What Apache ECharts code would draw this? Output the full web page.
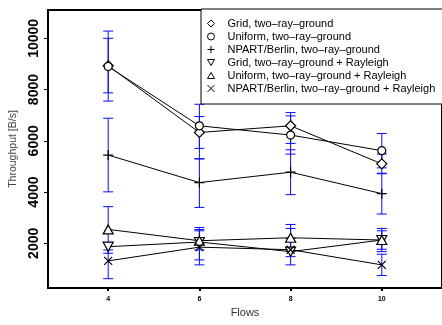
<!DOCTYPE html>
<html>
<head>
<meta charset="utf-8">
<script src="https://cdn.jsdelivr.net/npm/echarts@6/dist/echarts.min.js"></script>
<style>
html,body{margin:0;padding:0;background:#fff;}
#c{width:442px;height:325px;}
</style>
</head>
<body>
<div id="c"></div>
<script>
// ---- data ----
var flows = [4, 6, 8, 10];
var seriesNames = [
  'Grid, two–ray–ground',
  'Uniform, two–ray–ground',
  'NPART/Berlin, two–ray–ground',
  'Grid, two–ray–ground + Rayleigh',
  'Uniform, two–ray–ground + Rayleigh',
  'NPART/Berlin, two–ray–ground + Rayleigh'
];
var gridTR   = [8928, 6326, 6586, 5101];
var unifTR   = [8900, 6585, 6225, 5616];
var npartTR  = [5445, 4370, 4775, 3939];
var gridRay  = [1868, 2050, 1674, 2128];
var unifRay  = [2543, 2100, 2217, 2128];
var npartRay = [1314, 1850, 1750, 1159];

var gridTRLo   = [7872, 5295, 5899, 4714];
var gridTRHi   = [10000, 7426, 7101, 5488];
var unifTRLo   = [7551, 5705, 5480, 4945];
var unifTRHi   = [10283, 6946, 6973, 6287];
var npartTRLo  = [4008, 3400, 3899, 3143];
var npartTRHi  = [6881, 5300, 5650, 4735];
var gridRayLo  = [1740, 1353, 1159, 1768];
var gridRayHi  = [2000, 2488, 2189, 2488];
var unifRayLo  = [1612, 1740, 1700, 1675];
var unifRayHi  = [3430, 2620, 2736, 2581];
var npartRayLo = [620, 1159, 1481, 744];
var npartRayHi = [2010, 2541, 2581, 1574];

var yTicks = [2000, 4000, 6000, 8000, 10000];
var xTicks = [4, 6, 8, 10];

// ---- build ----
var symPlus  = 'path://M5,0 L5,10 M0,5 L10,5';
var symCross = 'path://M0,0 L10,10 M10,0 L0,10';
var symDown  = 'path://M0,0 L10,0 L5,8.66 Z';
var symUp    = 'path://M5,0 L10,8.66 L0,8.66 Z';
var symbols = ['diamond', 'circle', symPlus, symDown, symUp, symCross];
var sizes = [[10,10],[8,8],[10,10],[10,9],[10,9],[8,8]];
var values = [gridTR, unifTR, npartTR, gridRay, unifRay, npartRay];
var los = [gridTRLo, unifTRLo, npartTRLo, gridRayLo, unifRayLo, npartRayLo];
var his = [gridTRHi, unifTRHi, npartTRHi, gridRayHi, unifRayHi, npartRayHi];

var errData = [];
for (var s = 0; s < values.length; s++) {
  for (var i = 0; i < flows.length; i++) {
    errData.push([flows[i], los[s][i], his[s][i]]);
  }
}

var series = [{
  type: 'custom',
  name: 'err',
  z: 1,
  silent: true,
  data: errData,
  encode: {x: 0, y: [1, 2]},
  renderItem: function (params, api) {
    var lo = api.coord([api.value(0), api.value(1)]);
    var hi = api.coord([api.value(0), api.value(2)]);
    var w = 5;
    var st = {stroke: '#0a0aff', lineWidth: 1};
    return {
      type: 'group',
      children: [
        {type: 'line', shape: {x1: lo[0], y1: lo[1], x2: hi[0], y2: hi[1]}, style: st},
        {type: 'line', shape: {x1: lo[0]-w, y1: lo[1], x2: lo[0]+w, y2: lo[1]}, style: st},
        {type: 'line', shape: {x1: hi[0]-w, y1: hi[1], x2: hi[0]+w, y2: hi[1]}, style: st}
      ]
    };
  }
}];

var legendData = [];
for (var k = 0; k < values.length; k++) {
  var d = [];
  for (var j = 0; j < flows.length; j++) d.push([flows[j], values[k][j]]);
  series.push({
    type: 'line',
    name: seriesNames[k],
    z: 3,
    data: d,
    symbol: symbols[k],
    symbolSize: sizes[k],
    showAllSymbol: true,
    lineStyle: {color: '#000', width: 1},
    itemStyle: {color: '#fff', borderColor: '#000', borderWidth: 1.2},
    emphasis: {disabled: true},
    animation: false
  });
  legendData.push({name: seriesNames[k], icon: symbols[k]});
}

var chart = echarts.init(document.getElementById('c'), null, {renderer: 'canvas'});
chart.setOption({
  animation: false,
  backgroundColor: '#fff',
  textStyle: {fontFamily: 'Liberation Sans'},
  grid: {left: 48, right: -2, top: 10, bottom: 37, show: true, borderColor: '#000', borderWidth: 2},
  legend: {
    orient: 'vertical',
    left: 201,
    top: 9,
    data: legendData,
    itemWidth: 7,
    itemHeight: 7,
    itemGap: 0,
    padding: [8, 10, 9, 6],
    backgroundColor: '#fff',
    borderColor: '#000',
    borderWidth: 1,
    borderRadius: 0,
    selectedMode: false,
    itemStyle: {color: '#fff', borderColor: '#000', borderWidth: 1},
    textStyle: {fontSize: 11, color: '#000', lineHeight: 13, padding: [0, 0, 0, 8], fontFamily: 'Liberation Sans'}
  },
  xAxis: {
    type: 'value',
    min: 2.68,
    max: 11.32,
    name: 'Flows',
    nameLocation: 'middle',
    nameGap: 17,
    nameTextStyle: {fontSize: 11, color: '#333'},
    splitLine: {show: false},
    axisLine: {show: true, lineStyle: {color: '#000', width: 2}},
    axisTick: {show: true, length: 3, customValues: xTicks, lineStyle: {color: '#000', width: 2}},
    axisLabel: {customValues: xTicks, fontSize: 7, fontWeight: 'bold', color: '#000', margin: 8}
  },
  yAxis: {
    type: 'value',
    min: 256,
    max: 11105,
    name: 'Throughput [B/s]',
    nameLocation: 'middle',
    nameRotate: 90,
    nameGap: 27,
    nameTextStyle: {fontSize: 10.5, color: '#444'},
    splitLine: {show: false},
    axisLine: {show: true, lineStyle: {color: '#000', width: 2}},
    axisTick: {show: true, length: 4, customValues: yTicks, lineStyle: {color: '#000', width: 1}},
    axisLabel: {customValues: yTicks, rotate: 90, fontSize: 14, fontWeight: 'bold', color: '#000', margin: 7,
      formatter: function (v) { return String(v); }}
  },
  series: series
});
</script>
</body>
</html>
